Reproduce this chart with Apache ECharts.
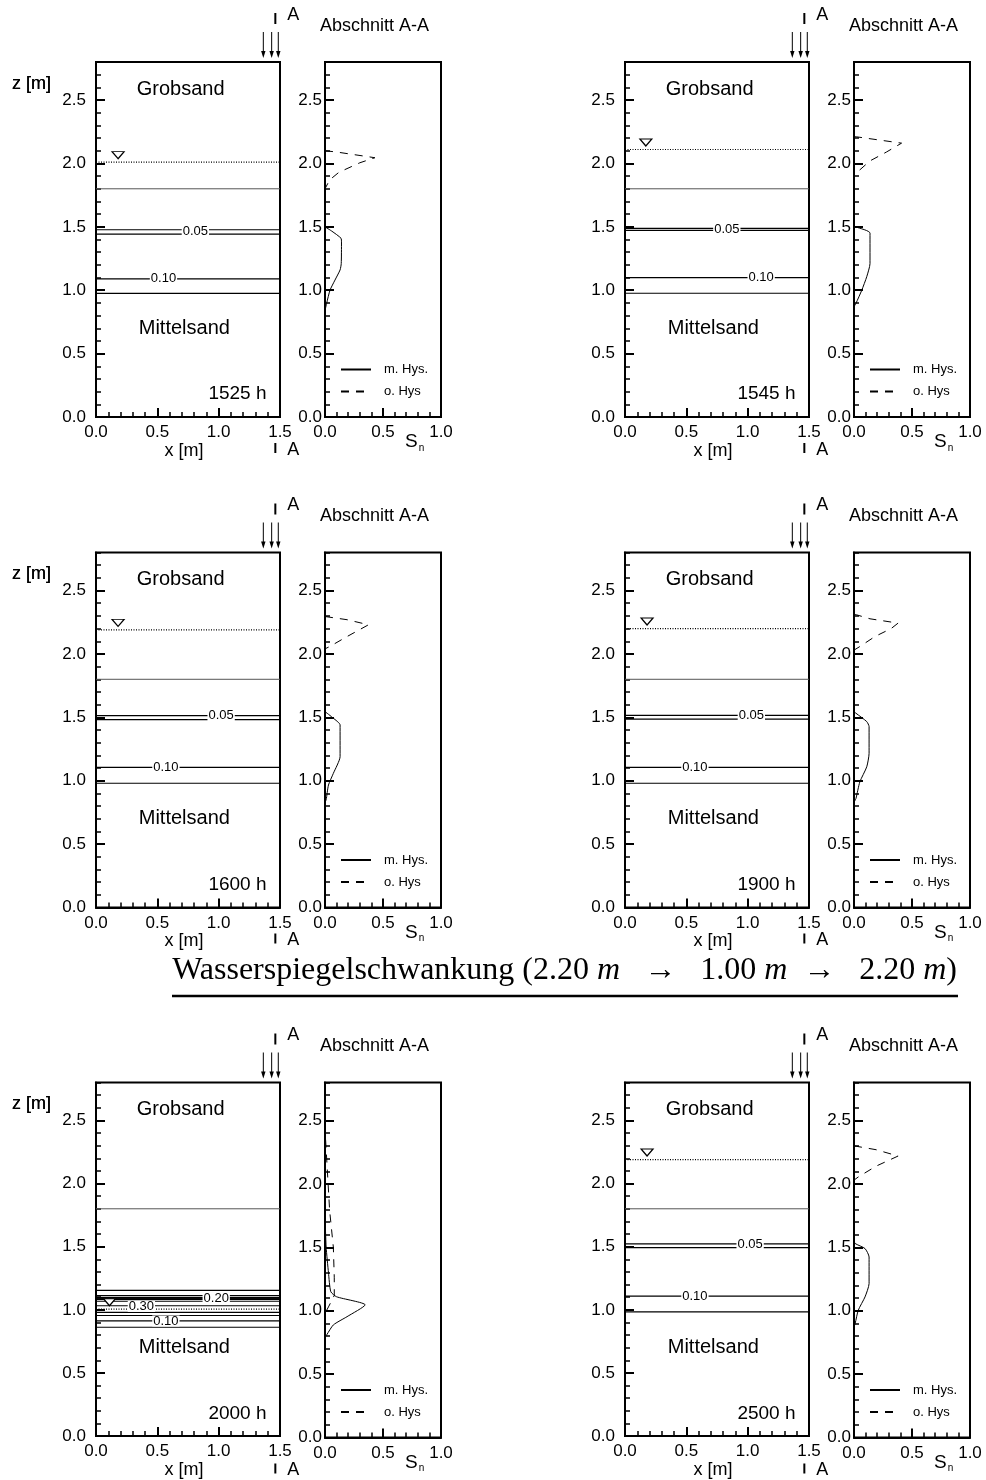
<!DOCTYPE html>
<html>
<head>
<meta charset="utf-8">
<script src="https://cdn.jsdelivr.net/npm/echarts@6/dist/echarts.min.js"></script>
<style>
  html, body { margin: 0; padding: 0; background: #fff; }
  #chart { width: 986px; height: 1480px; }
</style>
</head>
<body>
<div id="chart"></div>
<script>
// ---- data -------------------------------------------------------------
// time steps of the six panels (row by row)
const times = ['1525 h', '1545 h', '1600 h', '1900 h', '2000 h', '2500 h'];
// water table elevation z [m] and x [m] of the water table symbol
const waterTable = [2.01, 2.11, 2.19, 2.20, 1.005, 2.19];
const waterMarkX = [0.18, 0.17, 0.18, 0.18, 0.11, 0.18];
// boundary line inside the column
const layerBoundary = 1.80;

// saturation isolines, elevation z [m]
const contours1525 = [1.477, 1.443, 1.09, 0.975];
const contours1545 = [1.487, 1.472, 1.10, 0.976];
const contours1600 = [1.513, 1.482, 1.106, 0.98];
const contours1900 = [1.515, 1.485, 1.106, 0.98];
const contours2000 = [1.154, 1.113, 1.097, 1.092, 1.087, 1.082, 1.068, 1.032, 0.98, 0.955, 0.912, 0.862];
const contours2500 = [1.522, 1.493, 1.109, 0.983];

// isoline labels: [text, x, z]
const isoLabels1525 = [['0.05', 0.81, 1.462], ['0.10', 0.55, 1.09]];
const isoLabels1545 = [['0.05', 0.83, 1.48], ['0.10', 1.11, 1.10]];
const isoLabels1600 = [['0.05', 1.02, 1.513], ['0.10', 0.57, 1.106]];
const isoLabels1900 = [['0.05', 1.03, 1.513], ['0.10', 0.57, 1.106]];
const isoLabels2000 = [['0.20', 0.98, 1.087], ['0.30', 0.37, 1.027], ['0.10', 0.57, 0.912]];
const isoLabels2500 = [['0.05', 1.02, 1.52], ['0.10', 0.57, 1.109]];

// section A-A: NAPL saturation Sn vs z, with hysteresis [Sn, z]
const snHys1525 = [[0, 1.50], [0.06, 1.465], [0.138, 1.41], [0.142, 1.38], [0.14, 1.21], [0.13, 1.16], [0.086, 1.08], [0.043, 1.0], [0.015, 0.90], [0, 0.84]];
const snHys1545 = [[0, 1.50], [0.02, 1.498], [0.138, 1.45], [0.138, 1.21], [0.11, 1.107], [0.067, 1.0], [0.017, 0.897], [0, 0.87]];
const snHys1600 = [[0, 1.545], [0.072, 1.493], [0.13, 1.44], [0.13, 1.19], [0.072, 1.058], [0.03, 0.966], [0.01, 0.85], [0, 0.83]];
const snHys1900 = [[0, 1.545], [0.017, 1.532], [0.11, 1.466], [0.13, 1.427], [0.13, 1.216], [0.11, 1.11], [0.05, 0.99], [0.017, 0.86], [0, 0.83]];
const snHys2000 = [[0, 1.75], [0.01, 1.5], [0.03, 1.3], [0.05, 1.15], [0.10, 1.11], [0.346, 1.046], [0.19, 0.953], [0.072, 0.888], [0.015, 0.81], [0, 0.79]];
const snHys2500 = [[0, 1.55], [0.01, 1.53], [0.095, 1.49], [0.13, 1.424], [0.13, 1.214], [0.095, 1.109], [0.037, 1.004], [0.01, 0.90], [0, 0.87]];

// section A-A: Sn vs z, without hysteresis [Sn, z]
const snNoHys1525 = [[0, 2.10], [0.10, 2.09], [0.43, 2.045], [0.30, 2.005], [0.12, 1.93], [0.04, 1.87], [0, 1.80]];
const snNoHys1545 = [[0, 2.21], [0.02, 2.21], [0.41, 2.16], [0.28, 2.09], [0.138, 2.02], [0.02, 1.925], [0, 1.90]];
const snNoHys1600 = [[0, 2.295], [0.19, 2.27], [0.375, 2.23], [0.19, 2.137], [0.04, 2.058], [0, 2.04]];
const snNoHys1900 = [[0, 2.31], [0.02, 2.309], [0.138, 2.277], [0.38, 2.243], [0.32, 2.20], [0.18, 2.137], [0.05, 2.058], [0, 2.03]];
const snNoHys2000 = [[0.005, 2.35], [0.015, 2.19], [0.04, 1.79], [0.072, 1.5], [0.08, 1.26], [0.08, 1.12], [0.03, 1.03], [0, 0.98]];
const snNoHys2500 = [[0, 2.30], [0.02, 2.297], [0.19, 2.27], [0.38, 2.22], [0.19, 2.14], [0.037, 2.055], [0, 2.03]];

// x positions [m] of the three infiltration arrows and of the section mark
const arrowX = [1.364, 1.432, 1.486];
const sectionX = 1.462;

const contours = [contours1525, contours1545, contours1600, contours1900, contours2000, contours2500];
const isoLabels = [isoLabels1525, isoLabels1545, isoLabels1600, isoLabels1900, isoLabels2000, isoLabels2500];
const snHys = [snHys1525, snHys1545, snHys1600, snHys1900, snHys2000, snHys2500];
const snNoHys = [snNoHys1525, snNoHys1545, snNoHys1600, snNoHys1900, snNoHys2000, snNoHys2500];

// ---- layout -----------------------------------------------------------
const FONT = '"Liberation Sans", Arial, Helvetica, sans-serif';
const SERIF = '"Liberation Serif", "Times New Roman", serif';
const colShift = [0, 529];
const rowTop = [62, 552.5, 1082.5];
const plotH = 355;
const LEFT = { left: 96, width: 184 };
const RIGHT = { left: 325, width: 116 };
const Z_MAX = 2.8, X_MAX = 1.5, SN_MAX = 1.0;

const grids = [], xAxes = [], yAxes = [], series = [], legends = [], graphics = [];

function fmt1(v) { return v.toFixed(1); }

function addAxes(gi, xMax, yLabelMargin) {
  xAxes.push({
    gridIndex: gi, type: 'value', min: 0, max: xMax, interval: 0.5,
    axisLine: { show: true, onZero: false, lineStyle: { color: '#000', width: 2 } },
    axisTick: { show: true, inside: true, length: 9, lineStyle: { color: '#000', width: 2 } },
    minorTick: { show: true, splitNumber: 5, length: 5, lineStyle: { color: '#000', width: 1.5 } },
    splitLine: { show: false }, minorSplitLine: { show: false },
    axisLabel: { fontFamily: FONT, fontSize: 17, color: '#000', margin: 7, formatter: fmt1 }
  });
  yAxes.push({
    gridIndex: gi, type: 'value', min: 0, max: Z_MAX, interval: 0.5, position: 'left',
    axisLine: { show: true, onZero: false, lineStyle: { color: '#000', width: 2 } },
    axisTick: { show: true, inside: true, length: 9, lineStyle: { color: '#000', width: 2 } },
    splitLine: { show: false },
    axisLabel: { fontFamily: FONT, fontSize: 17, color: '#000', margin: yLabelMargin,
      showMaxLabel: false, formatter: fmt1 }
  });
  yAxes.push({
    gridIndex: gi, type: 'value', min: 0, max: Z_MAX, interval: 0.1, position: 'left',
    axisLine: { show: false },
    axisTick: { show: true, inside: true, length: 5, lineStyle: { color: '#000', width: 1.5 } },
    splitLine: { show: false },
    axisLabel: { show: false }
  });
}

function hLine(gi, z, style) {
  series.push({
    type: 'line', xAxisIndex: gi, yAxisIndex: 2 * gi, symbol: 'none', silent: true,
    data: [[0, z], [X_MAX, z]], lineStyle: style, z: 3
  });
}

// invisible points that only carry a text label
const hiddenItem = { color: 'rgba(0,0,0,0)', opacity: 1 };

function textPoints(gi, rows, fontSize, align) {
  series.push({
    type: 'scatter', xAxisIndex: gi, yAxisIndex: 2 * gi, silent: true, symbolSize: 1,
    itemStyle: hiddenItem, z: 6,
    data: rows.map(r => [r[1], r[2], r[0]]),
    label: {
      show: true, position: 'inside', formatter: p => p.data[2],
      fontFamily: FONT, fontSize: fontSize, color: '#000', textBorderWidth: 0,
      align: align || 'center'
    }
  });
}

for (let p = 0; p < 6; p++) {
  const col = p % 2, row = Math.floor(p / 2);
  const top = rowTop[row];
  const gL = 2 * p, gR = 2 * p + 1;
  const lLeft = LEFT.left + colShift[col];
  const rLeft = RIGHT.left + colShift[col];

  grids.push({ left: lLeft, top: top, width: LEFT.width, height: plotH,
    show: true, borderColor: '#000', borderWidth: 2, backgroundColor: 'transparent' });
  grids.push({ left: rLeft, top: top, width: RIGHT.width, height: plotH,
    show: true, borderColor: '#000', borderWidth: 2, backgroundColor: 'transparent' });

  addAxes(gL, X_MAX, 10);
  addAxes(gR, SN_MAX, 3);
  xAxes[gL].name = 'x [m]';
  xAxes[gL].nameLocation = 'middle';
  xAxes[gL].nameGap = 22;
  xAxes[gL].nameTextStyle = { fontFamily: FONT, fontSize: 18, color: '#000', padding: [0, 8, 0, 0] };

  // column cross-section
  hLine(gL, layerBoundary, { color: '#555', width: 1 });
  contours[p].forEach(z => hLine(gL, z, { color: '#000', width: 1.2 }));
  hLine(gL, waterTable[p], { color: '#000', width: 1.2, type: [1, 1.5] });

  series.push({
    type: 'scatter', xAxisIndex: gL, yAxisIndex: 2 * gL, silent: true, z: 8,
    data: [[waterMarkX[p], waterTable[p]]],
    symbol: 'triangle', symbolRotate: 180, symbolSize: [12, 7], symbolOffset: [0, -7],
    itemStyle: { color: '#fff', borderColor: '#000', borderWidth: 1.2, opacity: 1 }
  });

  series.push({
    type: 'scatter', xAxisIndex: gL, yAxisIndex: 2 * gL, silent: true, symbolSize: 1,
    itemStyle: hiddenItem, z: 7,
    data: isoLabels[p].map(r => [r[1], r[2], r[0]]),
    label: {
      show: true, position: 'inside', formatter: q => q.data[2],
      fontFamily: FONT, fontSize: 13, color: '#000', textBorderWidth: 0,
      backgroundColor: '#fff', padding: [0, 1, 0, 1], lineHeight: 11
    }
  });

  textPoints(gL, [['Grobsand', 0.69, 2.585], ['Mittelsand', 0.72, 0.70]], 20);
  textPoints(gL, [[times[p], 1.39, 0.18]], 19, 'right');

  // section A-A profiles
  series.push({
    name: 'm. Hys.', type: 'line', xAxisIndex: gR, yAxisIndex: 2 * gR, symbol: 'none',
    silent: true, smooth: 0.2, data: snHys[p], color: '#000',
    lineStyle: { color: '#000', width: 1 }, z: 4
  });
  series.push({
    name: 'o. Hys', type: 'line', xAxisIndex: gR, yAxisIndex: 2 * gR, symbol: 'none',
    silent: true, data: snNoHys[p], color: '#000',
    lineStyle: { color: '#000', width: 1, type: [8, 7] }, z: 4
  });

  legends.push({
    orient: 'vertical', left: rLeft + 10, top: top + 296, itemWidth: 30, itemHeight: 14,
    itemGap: 9, selectedMode: false, data: ['m. Hys.', 'o. Hys'],
    itemStyle: { opacity: 0 },
    textStyle: { fontFamily: FONT, fontSize: 13, color: '#000', padding: [0, 0, 0, 8] }
  });

  // annotations around the panels
  const bottom = top + plotH;
  const toPx = x => lLeft + x / X_MAX * LEFT.width;

  graphics.push({ type: 'text', left: 12, top: top + 13,
    style: { text: 'z [m]', font: '18px ' + FONT, fill: '#000' } });
  graphics.push({ type: 'text', x: rLeft - 5, y: top - 36,
    style: { text: 'Abschnitt A-A', font: '18px ' + FONT, fill: '#000', verticalAlign: 'middle' } });

  const sx = toPx(sectionX);
  graphics.push({ type: 'line', shape: { x1: sx, y1: top - 49, x2: sx, y2: top - 38 },
    style: { stroke: '#000', lineWidth: 2 } });
  graphics.push({ type: 'text', x: sx + 12, y: top - 47,
    style: { text: 'A', font: '18px ' + FONT, fill: '#000', verticalAlign: 'middle' } });
  graphics.push({ type: 'line', shape: { x1: sx, y1: bottom + 26, x2: sx, y2: bottom + 36 },
    style: { stroke: '#000', lineWidth: 2 } });
  graphics.push({ type: 'text', x: sx + 12, y: bottom + 33,
    style: { text: 'A', font: '18px ' + FONT, fill: '#000', verticalAlign: 'middle' } });

  arrowX.forEach(ax => {
    const x = toPx(ax);
    graphics.push({ type: 'line', shape: { x1: x, y1: top - 30, x2: x, y2: top - 8 },
      style: { stroke: '#000', lineWidth: 1 } });
    graphics.push({ type: 'polygon', shape: { points: [[x - 2.2, top - 11], [x + 2.2, top - 11], [x, top - 4]] },
      style: { fill: '#000' } });
  });

  graphics.push({ type: 'text', x: rLeft + 80, y: bottom + 25,
    style: {
      text: '{s|S}{n|n}', verticalAlign: 'middle',
      rich: {
        s: { font: '19px ' + FONT, fill: '#000' },
        n: { font: '10px ' + FONT, fill: '#000', padding: [12, 0, 0, 1] }
      }
    } });
}

// heading of the water-level fluctuation block
graphics.push({ type: 'text', x: 957, y: 987,
  style: {
    text: '{t|Wasserspiegelschwankung (2.20 }{i|m}{t|   →   1.00 }{i|m}{t|  →   2.20 }{i|m}{t|)}',
    align: 'right', verticalAlign: 'bottom',
    rich: {
      t: { font: '32px ' + SERIF, fill: '#000' },
      i: { font: 'italic 32px ' + SERIF, fill: '#000' }
    }
  } });
graphics.push({ type: 'line', shape: { x1: 172, y1: 996, x2: 958, y2: 996 },
  style: { stroke: '#000', lineWidth: 2.5 } });

const chart = echarts.init(document.getElementById('chart'), null, { renderer: 'canvas' });
chart.setOption({
  animation: false,
  backgroundColor: '#fff',
  grid: grids,
  xAxis: xAxes,
  yAxis: yAxes,
  legend: legends,
  series: series,
  graphic: graphics
});
</script>
</body>
</html>
